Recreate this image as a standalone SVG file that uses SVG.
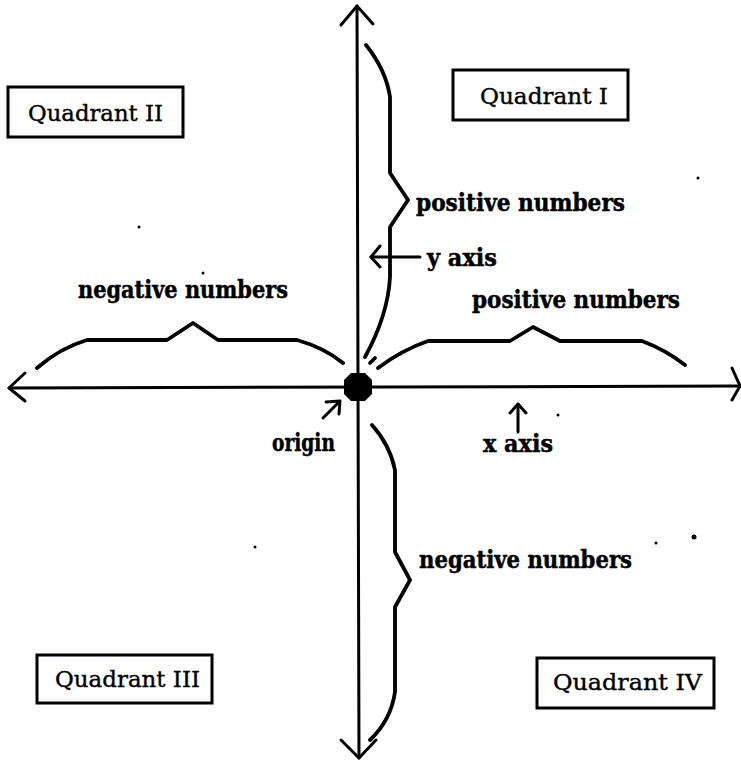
<svg xmlns="http://www.w3.org/2000/svg" width="741" height="761" viewBox="0 0 741 761">
<style>
.ln{fill:none;stroke:#000;stroke-width:3;stroke-linecap:round;stroke-linejoin:round}
.br{fill:none;stroke:#000;stroke-width:3.8;stroke-linecap:round;stroke-linejoin:round}
.box{fill:#fff;stroke:#000;stroke-width:3}
.q{font-family:"DejaVu Serif","Liberation Serif",serif;font-size:23px;fill:#000;stroke:#000;stroke-width:0.4}
.b{font-family:"DejaVu Serif","Liberation Serif",serif;font-weight:bold;font-size:24px;fill:#000;stroke:#000;stroke-width:0.5}
.dot{fill:#000}
</style>
<rect width="741" height="761" fill="#fff"/>
<g id="connectors">
  <path class="ln" d="M357,6 L359,758"/>
  <path class="ln" d="M341,25 L357,6 L373,24"/>
  <path class="ln" d="M341,740 L359,758 L376,740"/>
  <path class="ln" d="M9,388 L740,386"/>
  <path class="ln" d="M25,373 L9,388 L25,401"/>
  <path class="ln" d="M732,368 L740,386 L732,400"/>
  <path class="ln" d="M420,257 L371,257"/>
  <path class="ln" d="M380,246 L371,257 L380,267"/>
  <path class="ln" d="M518,432 L518,404"/>
  <path class="ln" d="M510,413 L518,404 L526,413"/>
  <path class="ln" d="M323,418 L339,402"/>
  <path class="ln" d="M326,402 L340,401 L339,414"/>
  <path class="br" d="M366,45 Q386,70 390,97 L390,173 L408,200 L390,227 L390,277 Q388,315 365,357"/>
  <path class="br" d="M370,363 L375,358"/>
  <path class="br" d="M372,425 Q390,445 395,470 L395,552 L410,580 L395,607 L395,692 Q391,720 370,740"/>
  <path class="br" d="M378,368 Q402,350 428,341 L510,341 L533,327 L560,341 L642,341 Q666,350 685,365"/>
  <path class="br" d="M37,368 Q60,348 87,340 L167,340 L193,323 L218,340 L297,340 Q325,348 343,363"/>
</g>
<g id="origin">
  <polygon class="dot" points="351,373 365,373 372,380 372,394 365,401 351,401 344,394 344,380"/>
  <text class="b" x="272" y="451" font-size="19" textLength="63" lengthAdjust="spacingAndGlyphs">origin</text>
</g>
<g id="quadrant-1">
  <rect class="box" x="453" y="70" width="175" height="50"/>
  <text class="q" x="480" y="104" textLength="128" lengthAdjust="spacingAndGlyphs">Quadrant I</text>
</g>
<g id="quadrant-2">
  <rect class="box" x="8" y="87" width="175" height="50"/>
  <text class="q" x="28" y="121" textLength="135" lengthAdjust="spacingAndGlyphs">Quadrant II</text>
</g>
<g id="quadrant-3">
  <rect class="box" x="37" y="655" width="175" height="48"/>
  <text class="q" x="55" y="687" textLength="145" lengthAdjust="spacingAndGlyphs">Quadrant III</text>
</g>
<g id="quadrant-4">
  <rect class="box" x="537" y="658" width="177" height="50"/>
  <text class="q" x="553" y="690" textLength="149" lengthAdjust="spacingAndGlyphs">Quadrant IV</text>
</g>
<g id="label-pos-y">
  <text class="b" x="416" y="211" textLength="209" lengthAdjust="spacingAndGlyphs">positive numbers</text>
</g>
<g id="label-y-axis">
  <text class="b" x="427" y="266" textLength="70" lengthAdjust="spacingAndGlyphs">y axis</text>
</g>
<g id="label-pos-x">
  <text class="b" x="472" y="308" textLength="208" lengthAdjust="spacingAndGlyphs">positive numbers</text>
</g>
<g id="label-neg-x">
  <text class="b" x="78" y="298" textLength="210" lengthAdjust="spacingAndGlyphs">negative numbers</text>
</g>
<g id="label-x-axis">
  <text class="b" x="483" y="452" textLength="70" lengthAdjust="spacingAndGlyphs">x axis</text>
</g>
<g id="label-neg-y">
  <text class="b" x="419" y="568" textLength="213" lengthAdjust="spacingAndGlyphs">negative numbers</text>
</g>
<g id="specks">
  <circle class="dot" cx="139" cy="227" r="1.5"/>
  <circle class="dot" cx="203" cy="273" r="1.5"/>
  <circle class="dot" cx="255" cy="547" r="1.5"/>
  <circle class="dot" cx="558" cy="415" r="1.5"/>
  <circle class="dot" cx="698" cy="178" r="1.5"/>
  <circle class="dot" cx="656" cy="543" r="1.5"/>
  <circle class="dot" cx="694" cy="537" r="2.5"/>
</g>
</svg>
